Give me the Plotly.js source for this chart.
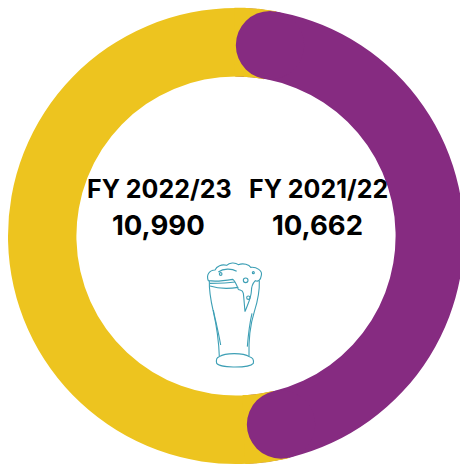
<!DOCTYPE html>
<html>
<head>
<meta charset="utf-8">
<script src="https://cdn.plot.ly/plotly-3.0.1.min.js"></script>
<style>
html,body{margin:0;padding:0;background:#fff;width:460px;height:465px;overflow:hidden}
#chart{width:472px;height:472px}
</style>
</head>
<body>
<div id="chart"></div>
<script>
// Data
var periods = ['FY 2021/22', 'FY 2022/23'];
var litres = [10662, 10990];
var valueLabels = ['10,662', '10,990'];
var colours = ['#862B81', '#EDC41F'];

// Geometry (pixels)
var SIZE = 472, MARGIN = 8, CX = 236, CY = 236, HOLE = 0.70;
var R = (SIZE - 2 * MARGIN) / 2, r = R * HOLE;
var midR = (R + r) / 2, capR = (R - r) / 2;
var span = SIZE - 2 * MARGIN;
function px(x) { return (x - MARGIN) / span; }
function py(y) { return 1 - (y - MARGIN) / span; }
function polar(rad, deg) {
  var a = deg * Math.PI / 180;
  return [CX + rad * Math.sin(a), CY - rad * Math.cos(a)];
}
function sector(a0, a1, fill) {
  var pts = [], i, n = 24, p;
  for (i = 0; i <= n; i++) { p = polar(R + 0.3, a0 + (a1 - a0) * i / n); pts.push(p); }
  for (i = n; i >= 0; i--) { p = polar(r - 0.3, a0 + (a1 - a0) * i / n); pts.push(p); }
  var d = pts.map(function (q, k) { return (k ? 'L' : 'M') + px(q[0]) + ',' + py(q[1]); }).join(' ') + ' Z';
  return {type: 'path', xref: 'paper', yref: 'paper', path: d, fillcolor: fill, line: {width: 0}, layer: 'above'};
}
function cap(deg, fill) {
  var c = polar(midR, deg);
  return {type: 'circle', xref: 'paper', yref: 'paper',
    x0: px(c[0] - capR), x1: px(c[0] + capR), y0: py(c[1] + capR), y1: py(c[1] - capR),
    fillcolor: fill, line: {width: 0}, layer: 'above'};
}

// Rounded ends of the first slice, located from the data
var sweep = 360 * litres[0] / (litres[0] + litres[1]);
var capDeg = (capR / midR) * 180 / Math.PI;
var endDeg = sweep - capDeg - 0.6;
var shapes = [
  sector(-0.4, capDeg, colours[1]),
  sector(endDeg, sweep + 0.4, colours[1]),
  cap(capDeg, colours[0]),
  cap(endDeg, colours[0])
];

// Beer glass decoration, coordinates in a local drawing space
var glassLines = [
  'M58,92 C57,120 62,150 70,185 C78,220 86,260 88,320',
  'M208,92 C209,120 204,150 193,185 C182,220 175,260 177,320',
  'M70,180 C76,210 84,240 92,285',
  'M186,190 C180,215 176,240 172,290',
  'M88,320 C78,322 78,330 80,340 C88,350 110,350 135,351 C160,351 182,350 190,340 C192,330 190,323 178,320',
  'M88,320 C105,308 160,308 178,320',
  'M60,108 C85,116 120,116 145,112',
  'M60,100 C85,100 110,100 135,96',
  'M55,92 C48,76 58,60 75,60 C80,48 95,42 110,46 C118,38 135,36 145,44 C160,38 178,44 182,52 C200,50 218,62 214,76 C212,90 205,96 196,92 C188,100 184,112 184,125 C183,145 172,165 165,185 C163,165 162,145 160,130 C158,118 150,122 145,118 C140,105 135,92 128,88 C105,92 80,96 55,92 Z',
  'M85,66 C100,55 125,55 140,64',
  'M174,91 C174,95 171,98 167,98 C163,98 160,95 160,91 C160,87 163,84 167,84 C171,84 174,87 174,91 Z',
  'M180,143 C180,146 178,148 175,148 C172,148 170,146 170,143 C170,140 172,138 175,138 C178,138 180,140 180,143 Z',
  'M96,72 C96,74 94,76 92,76 C90,76 88,74 88,72 C88,70 90,68 92,68 C94,68 96,70 96,72 Z',
  'M193,68 C193,70 192,71 190,71 C188,71 187,70 187,68 C187,66 188,65 190,65 C192,65 193,66 193,68 Z'
];
function glassPath(d) {
  var isX = true;
  return d.replace(/-?\d+(\.\d+)?/g, function (m) {
    var v = parseFloat(m), o;
    o = isX ? px(190 + v / 3) : py(250 + v / 3);
    isX = !isX;
    return String(o);
  });
}
glassLines.forEach(function (d) {
  shapes.push({type: 'path', xref: 'paper', yref: 'paper', path: glassPath(d),
    line: {color: '#3D9FB5', width: 1.1}, layer: 'above'});
});

function note(txt, x, y, size) {
  return {text: txt, xref: 'paper', yref: 'paper', x: px(x), y: py(y), xanchor: 'center', yanchor: 'middle',
    showarrow: false, font: {family: 'Inter, sans-serif', size: size, color: '#000000', weight: 700}};
}
var annotations = [
  note(periods[1], 159, 189, 25),
  note(valueLabels[1], 158, 225, 27.5),
  note(periods[0], 318, 189, 25),
  note(valueLabels[0], 317, 225, 27.5)
];

Plotly.newPlot('chart', [{
  type: 'pie',
  labels: periods,
  values: litres,
  hole: HOLE,
  sort: false,
  direction: 'clockwise',
  rotation: 0,
  textinfo: 'none',
  hoverinfo: 'label+value',
  marker: {colors: colours, line: {width: 0}},
  domain: {x: [0, 1], y: [0, 1]}
}], {
  width: SIZE,
  height: SIZE,
  margin: {l: MARGIN, r: MARGIN, t: MARGIN, b: MARGIN, pad: 0},
  showlegend: false,
  paper_bgcolor: '#ffffff',
  shapes: shapes,
  annotations: annotations
}, {displayModeBar: false, responsive: false});
</script>
</body>
</html>
